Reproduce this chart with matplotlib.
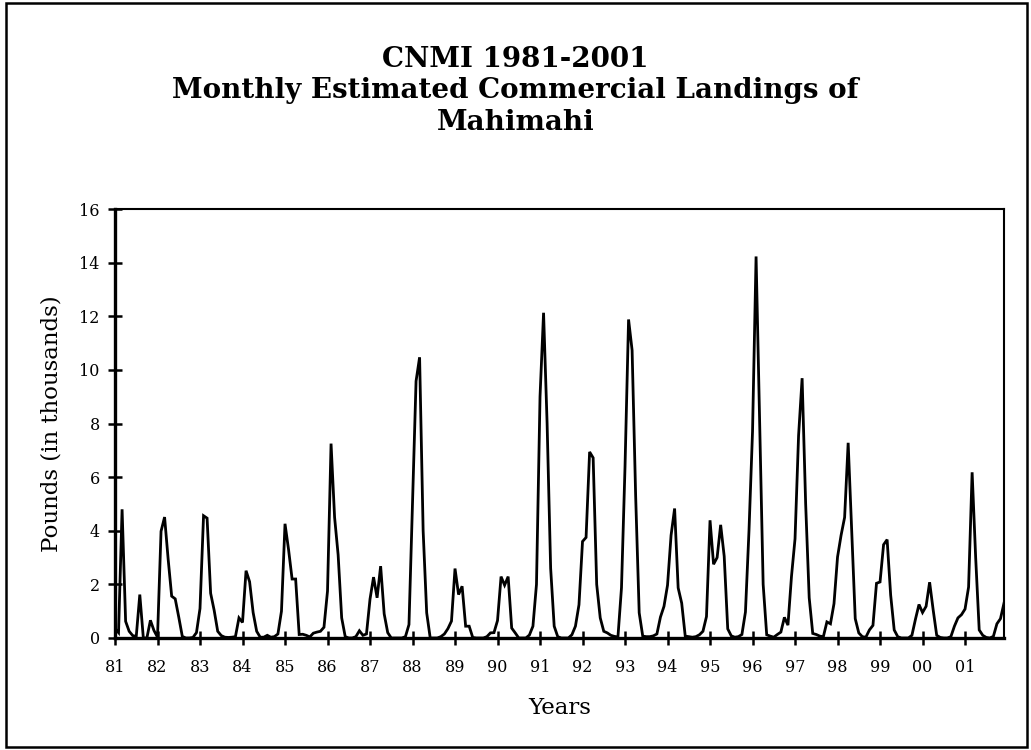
import numpy as np
import matplotlib
matplotlib.use("Agg")
import matplotlib.pyplot as plt
from matplotlib.patches import Rectangle

# Monthly landings (thousands of pounds), Jan..Dec for each year
y1981 = [0.35, 0.2, 4.8, 0.62, 0.25, 0.09, 0.06, 1.62, 0.0, 0.0, 0.66, 0.28]
y1982 = [0.03, 3.98, 4.51, 2.95, 1.56, 1.46, 0.78, 0.06, 0.0, 0.0, 0.02, 0.2]
y1983 = [1.1, 4.56, 4.47, 1.67, 1.03, 0.25, 0.09, 0.03, 0.02, 0.03, 0.05, 0.75]
y1984 = [0.58, 2.51, 2.1, 0.95, 0.25, 0.03, 0.03, 0.1, 0.03, 0.05, 0.15, 1.0]
y1985 = [4.26, 3.3, 2.2, 2.2, 0.13, 0.14, 0.1, 0.04, 0.18, 0.22, 0.25, 0.4]
y1986 = [1.75, 7.25, 4.5, 3.1, 0.75, 0.05, 0.0, 0.0, 0.05, 0.27, 0.1, 0.15]
y1987 = [1.45, 2.27, 1.5, 2.68, 0.9, 0.2, 0.0, 0.0, 0.0, 0.0, 0.05, 0.5]
y1988 = [5.0, 9.58, 10.47, 4.0, 0.94, 0.0, 0.0, 0.0, 0.05, 0.15, 0.35, 0.63]
y1989 = [2.59, 1.62, 1.93, 0.44, 0.44, 0.02, 0.0, 0.0, 0.0, 0.05, 0.19, 0.2]
y1990 = [0.65, 2.29, 1.97, 2.29, 0.37, 0.19, 0.0, 0.0, 0.0, 0.11, 0.44, 2.0]
y1991 = [9.0, 12.13, 8.0, 2.6, 0.44, 0.05, 0.0, 0.0, 0.0, 0.12, 0.44, 1.24]
y1992 = [3.6, 3.75, 6.94, 6.72, 2.0, 0.75, 0.25, 0.19, 0.1, 0.06, 0.04, 1.87]
y1993 = [6.4, 11.88, 10.73, 5.3, 0.94, 0.07, 0.05, 0.05, 0.08, 0.15, 0.78, 1.18]
y1994 = [1.97, 3.83, 4.83, 1.87, 1.3, 0.07, 0.05, 0.03, 0.05, 0.12, 0.25, 0.8]
y1995 = [4.39, 2.75, 3.0, 4.22, 3.05, 0.34, 0.08, 0.03, 0.05, 0.13, 0.97, 4.0]
y1996 = [7.7, 14.23, 8.1, 2.0, 0.12, 0.07, 0.03, 0.13, 0.22, 0.77, 0.48, 2.3]
y1997 = [3.7, 7.55, 9.69, 5.0, 1.5, 0.17, 0.13, 0.07, 0.05, 0.6, 0.53, 1.28]
y1998 = [3.02, 3.83, 4.5, 7.28, 4.0, 0.72, 0.19, 0.05, 0.03, 0.3, 0.47, 2.04]
y1999 = [2.09, 3.48, 3.67, 1.6, 0.3, 0.05, 0.0, 0.0, 0.0, 0.1, 0.7, 1.25]
y2000 = [0.95, 1.18, 2.08, 1.05, 0.1, 0.02, 0.0, 0.0, 0.05, 0.44, 0.75, 0.87]
y2001 = [1.08, 1.9, 6.18, 3.0, 0.3, 0.1, 0.02, 0.0, 0.06, 0.53, 0.72, 1.3]

years = [y1981, y1982, y1983, y1984, y1985, y1986, y1987, y1988, y1989, y1990,
         y1991, y1992, y1993, y1994, y1995, y1996, y1997, y1998, y1999, y2000, y2001]
year_labels = ["81", "82", "83", "84", "85", "86", "87", "88", "89", "90", "91",
               "92", "93", "94", "95", "96", "97", "98", "99", "00", "01"]

landings = np.concatenate(years)
months = np.arange(len(landings))

SERIF = "DejaVu Serif"
W, H = 1031, 750

fig = plt.figure(figsize=(W / 100, H / 100), dpi=100)
ax = fig.add_axes([115 / W, 112 / H, 889 / W, 429 / H])

ax.plot(months, landings, color="black", linewidth=2.0, solid_joinstyle="miter")
ax.set_xlim(0, len(landings) - 1)
ax.set_ylim(0, 16)

ax.set_xticks(np.arange(0, len(landings), 12))
ax.set_xticklabels(year_labels)
ax.set_yticks(np.arange(0, 17, 2))

ax.tick_params(axis="both", direction="inout", length=10, width=1.8,
               labelsize=11.5, color="black")
ax.tick_params(axis="x", pad=10)
ax.tick_params(axis="y", pad=6)
for lab in ax.get_xticklabels() + ax.get_yticklabels():
    lab.set_fontfamily(SERIF)

for side in ["left", "bottom"]:
    ax.spines[side].set_linewidth(2.4)
for side in ["top", "right"]:
    ax.spines[side].set_linewidth(1.5)

fig.text(0.5, 1 - 91 / H,
         "CNMI 1981-2001\nMonthly Estimated Commercial Landings of\nMahimahi",
         ha="center", va="center", fontsize=20, fontweight="bold",
         family=SERIF, linespacing=1.2)

fig.text(52 / W, 1 - 423.5 / H, "Pounds (in thousands)", rotation=90,
         ha="center", va="center", fontsize=16.5, family=SERIF)
fig.text(559.5 / W, 1 - 708 / H, "Years", ha="center", va="center",
         fontsize=16.5, family=SERIF)

# outer frame around the whole chart
fig.patches.append(Rectangle((6 / W, 3 / H), 1021 / W, 744 / H, fill=False,
                             edgecolor="black", linewidth=1.8,
                             transform=fig.transFigure, figure=fig))

fig.savefig("out.png", dpi=100)
